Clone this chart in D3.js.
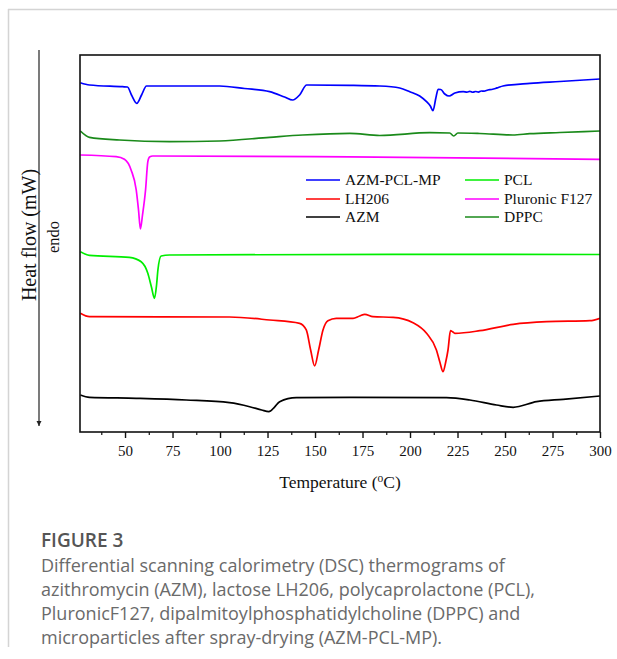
<!DOCTYPE html>
<html>
<head>
<meta charset="utf-8">
<script src="https://cdn.jsdelivr.net/npm/d3@7"></script>
<style>
  body { margin: 0; background: #fff; }
</style>
</head>
<body>
<div id="canvas"></div>
<script>
"use strict"

let svgWidth = 617
let svgHeight = 659

// plot area of the thermogram
let margin = { top: 55, right: 17, bottom: 227, left: 80 }

// x tick labels (major every 25 °C)
let xTicks = [50, 75, 100, 125, 150, 175, 200, 225, 250, 275, 300]
let xMinorTicks = [37.5, 62.5, 87.5, 112.5, 137.5, 162.5, 187.5, 212.5, 237.5, 262.5, 287.5]

// series names + colours, in legend order (col 1 then col 2)
let seriesNames = ["AZM-PCL-MP", "LH206", "AZM", "PCL", "Pluronic F127", "DPPC"]
let seriesColors = ["#0000ff", "#ff0000", "#000000", "#00ee00", "#ff00ff", "#1a8a1a"]

// temperature (°C) / stacked heat flow (offset units, endo down)
let azmPclMpT = [26.5, 31.3, 48.7, 51.3, 53.4, 56.2, 58.7, 61.3, 99.8, 112.9, 126.1, 134, 138.2, 141.9, 145.6,
    168.3, 184.1, 194.6, 199.9, 205.1, 208.7, 210.7, 212.1, 213.6, 214.8, 216.2, 218.3, 220.6, 223.6, 228,
    230, 231.5, 233, 234.5, 236, 237.5, 239, 241, 243, 245, 246.5, 248.9, 263.1, 278.9, 300]
let azmPclMpV = [92.65, 92.04, 91.59, 91.51, 89.39, 87.19, 89.39, 91.78, 91.78, 91.11, 90.27, 88.86, 88.06, 89.39, 92.04,
    91.96, 91.78, 91.25, 90.27, 89.12, 87.61, 86.47, 85.23, 88.59, 90.90, 90.85, 89.66, 89.12, 89.92, 90.27,
    90.15, 90.35, 90.12, 90.32, 90.15, 90.45, 90.40, 90.72, 90.85, 91.11, 91.38, 91.78, 92.49, 92.97, 93.63]

let dppcT = [26.5, 31.3, 47.1, 73.4, 99.8, 126.1, 143.5, 168.3, 184.1, 210.4, 220.9, 223, 225.2, 236.7, 254.1, 263.1, 278.9, 300]
let dppcV = [79.84, 78.17, 77.45, 77.0, 77.19, 78.17, 78.78, 79.23, 78.65, 79.39, 79.31, 78.51, 79.31, 79.18, 78.78, 79.13, 79.44, 79.84]

let pluronicT = [26.5, 45.3, 49.7, 53.2, 55.9, 57.1, 58.1, 59.2, 60.8, 62, 62.9, 64.6, 168.3, 300]
let pluronicV = [73.47, 73.02, 72.33, 69.5, 64.19, 58.89, 53.85, 57.56, 64.19, 71.7, 72.94, 73.21, 73.0, 72.33]

let pclT = [26.5, 31.3, 52.3, 58.5, 62, 63.9, 65.5, 66.6, 67.3, 69, 73.4, 194.6, 300]
let pclV = [47.82, 46.87, 46.34, 45.17, 42.1, 38.46, 35.46, 38.99, 42.97, 46.68, 46.95, 47.14, 47.08]

let lh206T = [26.5, 31.3, 105, 126.1, 141.9, 145.4, 147.7, 149.8, 151.9, 154.2, 156.8, 161.2, 170, 173.5, 176.2, 180.5,
    191.1, 201.6, 208.7, 213.9, 215.7, 217.4, 218.8, 220, 221.3, 222.4, 223.6, 236.7, 254.3, 271.9, 294.7, 300]
let lh206V = [31.49, 30.58, 30.5, 29.71, 28.83, 27.06, 21.75, 17.51, 21.75, 27.06, 29.52, 30.16, 30.16, 30.77, 31.22, 30.58,
    30.42, 28.99, 26.18, 21.75, 18.57, 15.99, 18.57, 21.75, 26.87, 26.6, 26.18, 26.87, 28.57, 29.26, 29.52, 30.16]

let azmT = [26.5, 31.3, 55.9, 82.2, 105, 115.6, 121.9, 125.7, 128.7, 131.4, 140.2, 168.3, 219.2, 231.5, 245.5, 254.3, 266.6, 280.6, 300]
let azmV = [9.81, 9.2, 8.94, 8.49, 7.77, 6.71, 5.84, 5.38, 6.63, 8.04, 9.1, 9.2, 9.1, 8.49, 7.16, 6.55, 8.04, 8.67, 9.55]

let captionTitle = "FIGURE 3"
let captionLines = [
    "Differential scanning calorimetry (DSC) thermograms of",
    "azithromycin (AZM), lactose LH206, polycaprolactone (PCL),",
    "PluronicF127, dipalmitoylphosphatidylcholine (DPPC) and",
    "microparticles after spray-drying (AZM-PCL-MP)."
]

let seriesT = [azmPclMpT, lh206T, azmT, pclT, pluronicT, dppcT]
let seriesV = [azmPclMpV, lh206V, azmV, pclV, pluronicV, dppcV]

let serif = "'Liberation Serif', 'Times New Roman', serif"

let svg = d3.select("#canvas")
    .append("svg")
    .attr("width", svgWidth)
    .attr("height", svgHeight)
    .style("display", "block")

let width = svgWidth - margin.left - margin.right
let height = svgHeight - margin.top - margin.bottom

let xScale = d3.scaleLinear().domain([26.3, 300]).range([0, width])
let yScale = d3.scaleLinear().domain([0, 100]).range([height, 0])

// card frame
svg.append("line")
    .attr("x1", 8).attr("y1", 9.5).attr("x2", svgWidth).attr("y2", 9.5)
    .attr("stroke", "#d4d4d4").attr("stroke-width", 1.5)
svg.append("line")
    .attr("x1", 8.5).attr("y1", 9).attr("x2", 8.5).attr("y2", 647)
    .attr("stroke", "#d4d4d4").attr("stroke-width", 1.5)

let chart = svg.append("g")
    .attr("transform", `translate(${margin.left},${margin.top})`)

// curves
let line = d3.line()
    .x(function (d) { return xScale(d[0]) })
    .y(function (d) { return yScale(d[1]) })
    .curve(d3.curveMonotoneX)

let clip = chart.append("clipPath").attr("id", "plotclip")
clip.append("rect").attr("width", width).attr("height", height)

for (let i = 0; i < seriesNames.length; i++) {
    let pts = d3.zip(seriesT[i], seriesV[i])
    chart.append("path")
        .attr("d", line(pts))
        .attr("fill", "none")
        .attr("stroke", seriesColors[i])
        .attr("stroke-width", 1.7)
        .attr("clip-path", "url(#plotclip)")
}

// frame
chart.append("rect")
    .attr("width", width)
    .attr("height", height)
    .attr("fill", "none")
    .attr("stroke", "#111")
    .attr("stroke-width", 1.6)

// x axis (major + minor ticks, outward)
let xAxis = d3.axisBottom(xScale)
    .tickValues(xTicks)
    .tickSize(6)
    .tickSizeOuter(0)
    .tickFormat(d3.format("d"))

let gx = chart.append("g")
    .attr("transform", `translate(0,${height})`)
    .call(xAxis)
gx.select(".domain").remove()
gx.selectAll(".tick line").attr("stroke", "#111").attr("stroke-width", 1.4)
gx.selectAll(".tick text")
    .attr("y", 13)
    .style("font-family", serif)
    .style("font-size", "15px")
    .attr("fill", "#111")

let gxMinor = chart.append("g")
    .attr("transform", `translate(0,${height})`)
    .call(d3.axisBottom(xScale).tickValues(xMinorTicks).tickSize(3).tickFormat(""))
gxMinor.select(".domain").remove()
gxMinor.selectAll(".tick line").attr("stroke", "#111").attr("stroke-width", 1.2)

// x title with superscript o
let xTitle = chart.append("text")
    .attr("x", width / 2)
    .attr("y", height + 56)
    .attr("text-anchor", "middle")
    .style("font-family", serif)
    .style("font-size", "17.5px")
    .attr("fill", "#111")
xTitle.append("tspan").text("Temperature (")
xTitle.append("tspan").text("o").attr("dy", -6).style("font-size", "11.5px")
xTitle.append("tspan").text("C)").attr("dy", 6)

// y axis: arrow and labels
let defs = svg.append("defs")
defs.append("marker")
    .attr("id", "arrow")
    .attr("viewBox", "0 0 10 10")
    .attr("refX", 10).attr("refY", 5)
    .attr("markerWidth", 5).attr("markerHeight", 9)
    .attr("markerUnits", "userSpaceOnUse")
    .attr("orient", "auto")
    .append("path")
    .attr("d", "M0,0 L10,5 L0,10 Z")
    .attr("fill", "#222")

svg.append("line")
    .attr("x1", 39).attr("y1", 50)
    .attr("x2", 39).attr("y2", 426)
    .attr("stroke", "#222")
    .attr("stroke-width", 1.2)
    .attr("marker-end", "url(#arrow)")

svg.append("text")
    .attr("transform", "translate(36,235) rotate(-90)")
    .attr("text-anchor", "middle")
    .style("font-family", serif)
    .style("font-size", "20px")
    .attr("fill", "#111")
    .text("Heat flow (mW)")

svg.append("text")
    .attr("transform", "translate(59,237) rotate(-90)")
    .attr("text-anchor", "middle")
    .style("font-family", serif)
    .style("font-size", "16.5px")
    .attr("fill", "#111")
    .text("endo")

// legend, two columns of three
let legendCols = [306 - margin.left, 465 - margin.left]
let legendRows = [180 - margin.top, 199 - margin.top, 217 - margin.top]

for (let i = 0; i < seriesNames.length; i++) {
    let lx = legendCols[Math.floor(i / 3)]
    let ly = legendRows[i % 3]
    chart.append("line")
        .attr("x1", lx).attr("x2", lx + 34)
        .attr("y1", ly).attr("y2", ly)
        .attr("stroke", seriesColors[i])
        .attr("stroke-width", 1.7)
    chart.append("text")
        .attr("x", lx + 39)
        .attr("y", ly + 5)
        .style("font-family", serif)
        .style("font-size", "15.5px")
        .attr("fill", "#111")
        .text(seriesNames[i])
}

// caption
svg.append("text")
    .attr("x", 41)
    .attr("y", 547)
    .style("font-family", "'Open Sans', sans-serif")
    .style("font-size", "19px")
    .style("font-weight", "600")
    .attr("fill", "#555")
    .text(captionTitle)

for (let i = 0; i < captionLines.length; i++) {
    svg.append("text")
        .attr("x", 41)
        .attr("y", 572 + i * 24)
        .style("font-family", "'Open Sans', sans-serif")
        .style("font-size", "18px")
        .attr("fill", "#6a6a6a")
        .text(captionLines[i])
}
</script>
</body>
</html>
